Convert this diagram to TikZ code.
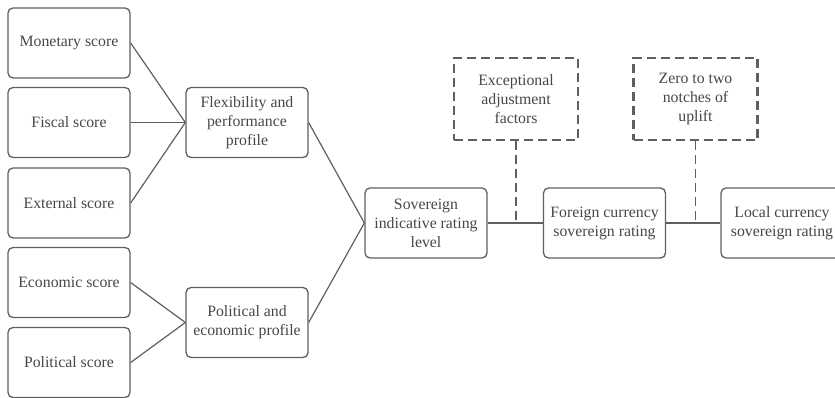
\documentclass[tikz,border=0pt]{standalone}
\usepackage{fontspec}
\setmainfont{Liberation Serif}
\definecolor{linegray}{RGB}{95,95,95}
\definecolor{textgray}{RGB}{70,70,70}
\tikzset{
    scorebox/.style={draw=linegray, line width=1.3pt, rounded corners=5pt,
      minimum width=122pt, minimum height=70pt, align=center, text=textgray,
      font=\fontsize{15.8}{19}\selectfont, inner sep=2pt},
    adjbox/.style={scorebox, dash pattern=on 9pt off 5pt, line width=2.3pt,
      rounded corners=0pt, minimum width=124pt, minimum height=82pt},
    link/.style={draw=linegray, line width=1.2pt},
    adjlink/.style={link, dash pattern=on 9pt off 5pt, line width=1.8pt},
  }
\begin{document}
\begin{tikzpicture}[x=1pt,y=-1pt]
  \useasboundingbox (0,0) rectangle (835,398);
  %scores
  \node[scorebox] (mon) at (69,43) {Monetary score};
  \node[scorebox] (fis) at (69,122.5) {Fiscal score};
  \node[scorebox] (ext) at (69,203) {External score};
  \node[scorebox] (eco) at (69,282.5) {Economic score};
  \node[scorebox] (pol) at (69,362.5) {Political score};
  %profiles
  \node[scorebox] (flex) at (247,122.5) {Flexibility and\\performance\\profile};
  \node[scorebox] (polec) at (247,322.5) {Political and\\economic profile};
  %ratings
  \node[scorebox] (sov) at (426,223) {Sovereign\\indicative rating\\level};
  \node[scorebox] (fcy) at (604.5,223) {Foreign currency\\sovereign rating};
  \node[scorebox] (lcy) at (782,223) {Local currency\\sovereign rating};
  %adjustments
  \node[adjbox] (exc) at (516,99) {Exceptional\\adjustment\\factors};
  \node[adjbox] (zero) at (695.5,99) {Zero to two\\notches of\\uplift};
  \draw[link] (mon.east) -- (flex.west);
  \draw[link] (fis.east) -- (flex.west);
  \draw[link] (ext.east) -- (flex.west);
  \draw[link] (eco.east) -- (polec.west);
  \draw[link] (pol.east) -- (polec.west);
  \draw[link] (flex.east) -- (sov.west);
  \draw[link] (polec.east) -- (sov.west);
  \draw[link] (sov.east) -- (fcy.west);
  \draw[link] (fcy.east) -- (lcy.west);
  \coordinate (excjoin) at (exc.south |- sov.east);
  \coordinate (zerojoin) at (zero.south |- fcy.east);
  \draw[adjlink] (exc.south) -- (excjoin);
  \draw[adjlink] (zero.south) -- (zerojoin);
\end{tikzpicture}
\end{document}
